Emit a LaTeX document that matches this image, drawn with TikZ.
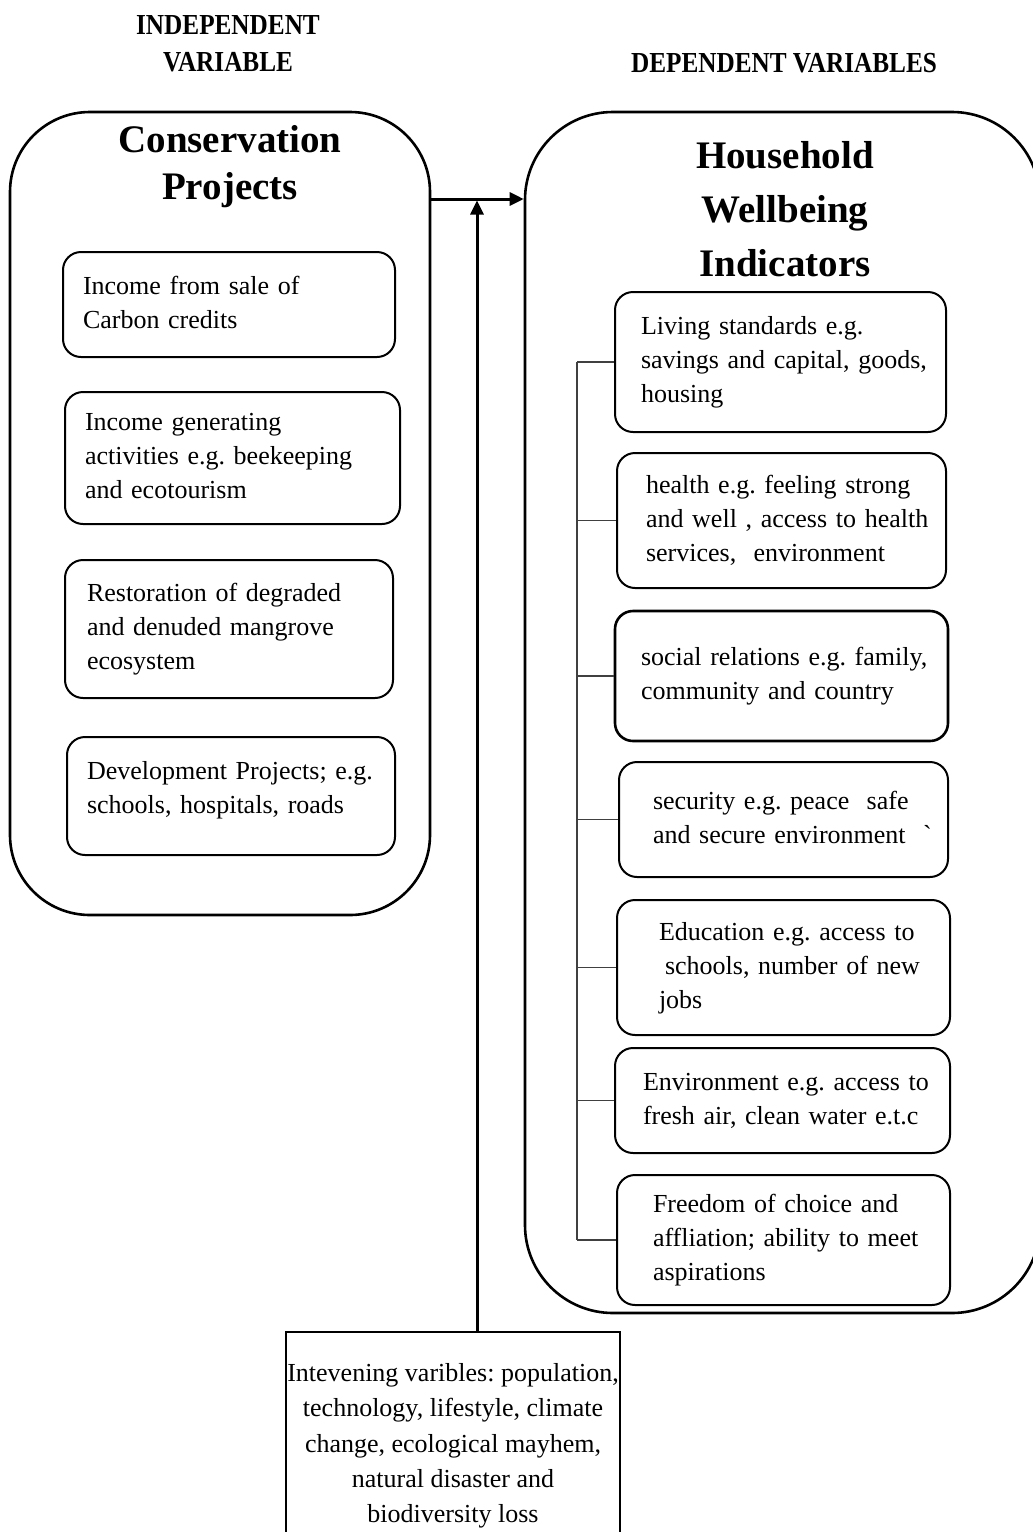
\documentclass[tikz,border=0pt]{standalone}
\usepackage{fontspec}
\setmainfont{Liberation Serif}
\newfontfamily\hdrfont[FakeStretch=0.87]{Liberation Serif}
\usetikzlibrary{arrows.meta}
\frenchspacing
\newcommand\boxlines[1]{\begin{tabular}{@{}l@{}}#1\end{tabular}}
\begin{document}
\begin{tikzpicture}[x=1pt,y=-1pt,
  bigbox/.style={draw, line width=2.6pt, rounded corners=#1, inner sep=0pt},
  ibox/.style n args={4}{draw, line width=2pt, rounded corners=18pt,
    minimum width=#1, minimum height=#2, inner xsep=#3, inner ysep=0pt,
    text width=#4, align=left, font=\fontsize{26}{34}\selectfont},
  hdr/.style={inner sep=0pt, align=center, font=\hdrfont\bfseries\fontsize{29}{37}\selectfont},
  ttl/.style={inner sep=0pt, align=center, font=\bfseries\fontsize{39}{47}\selectfont},
  arr/.style={line width=3pt, -{Triangle[length=14pt,width=13pt]}},
  stub/.style={line width=1.3pt, black!75}]
\useasboundingbox (0,0) rectangle (1033,1532);
\clip (0,0) rectangle (1033,1532);

% headers
\node[hdr, anchor=north] (indep) at (228,15.8) {INDEPENDENT\\VARIABLE};
\node[hdr, anchor=north] (dep) at (784,52.8) {DEPENDENT VARIABLES};

% big boxes
\node[bigbox=80pt, minimum width=420pt, minimum height=803pt] (leftbox) at (220,513.5) {};
\node[bigbox=88pt, minimum width=515pt, minimum height=1201pt] (rightbox) at (782.5,712.5) {};

% titles
\node[ttl, anchor=north] (t1) at (230,125) {Conservation\\Projects};
\node[ttl, anchor=north, font=\bfseries\fontsize{39}{54}\selectfont] (t2) at (785,141) {Household\\Wellbeing\\Indicators};

% left inner boxes
\node[ibox={332pt}{105pt}{20pt}{292pt}] (L1) at (229,304.5) {\boxlines{Income from sale of\\Carbon credits}};
\node[ibox={335pt}{132pt}{20pt}{295pt}] (L2) at (232.5,458) {\boxlines{Income generating\\activities e.g. beekeeping\\and ecotourism}};
\node[ibox={328pt}{138pt}{22pt}{284pt}] (L3) at (229,629) {\boxlines{Restoration of degraded\\and denuded mangrove\\ecosystem}};
\node[ibox={328pt}{118pt}{20pt}{288pt}] (L4) at (231,796) {\boxlines{Development Projects; e.g.\\schools, hospitals, roads\\[12pt]}};

% right inner boxes
\node[ibox={331pt}{140pt}{26pt}{279pt}] (R1) at (780.5,362) {\boxlines{Living standards e.g.\\savings and capital, goods,\\housing}};
\node[ibox={329pt}{135pt}{29pt}{271pt}] (R2) at (781.5,520.5) {\boxlines{health e.g. feeling strong\\and well , access to health\\services, \ environment}};
\node[ibox={333pt}{130pt}{26pt}{281pt}, line width=2.6pt] (R3) at (781.5,676) {\boxlines{social relations e.g. family,\\community and country}};
\node[ibox={329pt}{115pt}{34pt}{261pt}] (R4) at (783.5,819.5) {\boxlines{security e.g. peace \ safe\\and secure environment \ \textasciigrave}};
\node[ibox={333pt}{135pt}{42pt}{249pt}] (R5) at (783.5,967.5) {\boxlines{Education e.g. access to\\\hspace{6pt}schools, number of new\\jobs}};
\node[ibox={335pt}{105pt}{28pt}{279pt}] (R6) at (782.5,1100.5) {\boxlines{Environment e.g. access to\\fresh air, clean water e.t.c}};
\node[ibox={333pt}{130pt}{36pt}{261pt}] (R7) at (783.5,1240) {\boxlines{Freedom of choice and\\affliation; ability to meet\\aspirations}};

% bracket
\coordinate (spine) at (577,0);
\draw[stub] (R1.west -| spine) -- (R7.west -| spine);
\foreach \b in {R1,R2,R3,R4,R5,R6,R7}
  \draw[stub] (\b.west) -- (\b.west -| spine);

% intervening
\node[draw, line width=2pt, minimum width=334pt, minimum height=228pt, inner sep=0pt,
  align=center, font=\fontsize{26}{35.3}\selectfont] (inter) at (453,1446)
  {Intevening varibles: population,\\technology, lifestyle, climate\\change, ecological mayhem,\\natural disaster and\\biodiversity loss};

% arrows
\coordinate (hy) at (0,199);
\draw[arr] (leftbox.east |- hy) -- (rightbox.west |- hy);
\draw[arr, shorten >=1.5pt] ([xshift=24pt]inter.north) -- ([xshift=24pt]inter.north |- hy);
\end{tikzpicture}
\end{document}
